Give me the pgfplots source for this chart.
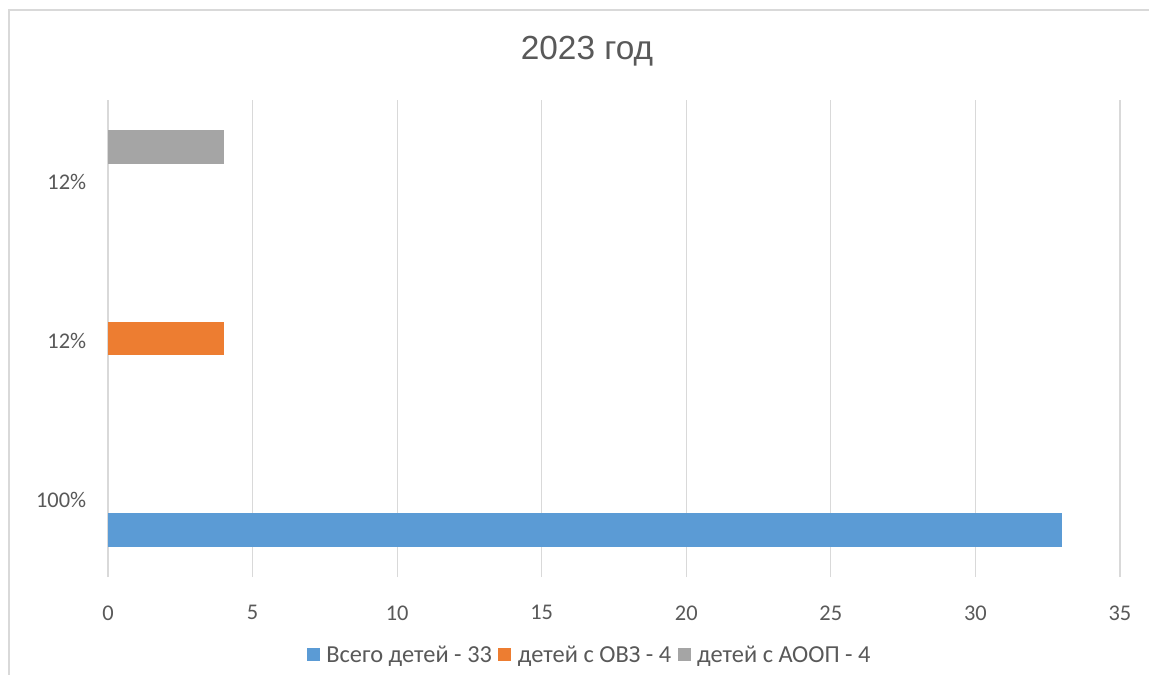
\documentclass[border=0pt]{standalone}
\usepackage{fontspec}
\setmainfont{Carlito}
\newfontfamily\titlefont{Liberation Sans}
\usepackage{pgfplots}
\pgfplotsset{compat=1.18}
\definecolor{sblue}{HTML}{5B9BD5}
\definecolor{sorange}{HTML}{ED7D31}
\definecolor{sgray}{HTML}{A5A5A5}
\definecolor{gridc}{HTML}{D9D9D9}
\definecolor{txt}{HTML}{595959}

\begin{document}
\begin{tikzpicture}
\useasboundingbox (0bp,0bp) rectangle (1149bp,675bp);
\fill[white] (0bp,0bp) rectangle (1149bp,675bp);
\draw[gridc, line width=1.5bp] (9bp,-5bp) -- (9bp,665bp) -- (1160bp,665bp);
\begin{axis}[
  at={(108bp,98bp)}, anchor=south west,
  scale only axis, width=1012bp, height=477bp,
  xbar, bar width=0.21,
  xmin=0, xmax=35, ymin=-0.5, ymax=2.5,
  xtick={0,5,...,35},
  ytick={0,1,2}, yticklabels={100\%,12\%,12\%},
  xmajorgrids, grid style={gridc, line width=1.2bp},
  axis line style={draw=none}, major tick style={draw=none},
  tick label style={font=\fontsize{22.5}{26}\selectfont, text=txt},
  /pgf/number format/assume math mode=true,
  xticklabel style={yshift=-25bp},
  yticklabel style={xshift=-14bp, yshift=-2bp},
  legend columns=3,
  legend image code/.code={\fill[#1] (0bp,-6.5bp) rectangle (13bp,6.5bp);},
  legend style={draw=none, fill=none, at={(0.476,-0.1635)}, anchor=center,
    font=\fontsize{24.5}{28}\selectfont, text=txt,
    /tikz/column sep=4.5bp, nodes={inner sep=2bp}},
]
\addplot[fill=sblue, draw=none, bar shift=-0.205] coordinates {(33,0)};
\addlegendentry{Всего детей - 33}
\addplot[fill=sorange, draw=none, bar shift=0] coordinates {(4,1)};
\addlegendentry{детей с ОВЗ - 4}
\addplot[fill=sgray, draw=none, bar shift=0.205] coordinates {(4,2)};
\addlegendentry{детей с АООП - 4}
\end{axis}
\node[font=\titlefont\fontsize{33.5}{38}\selectfont, text=txt, anchor=base] at (587bp,615bp) {2023 год};
\end{tikzpicture}
\end{document}
